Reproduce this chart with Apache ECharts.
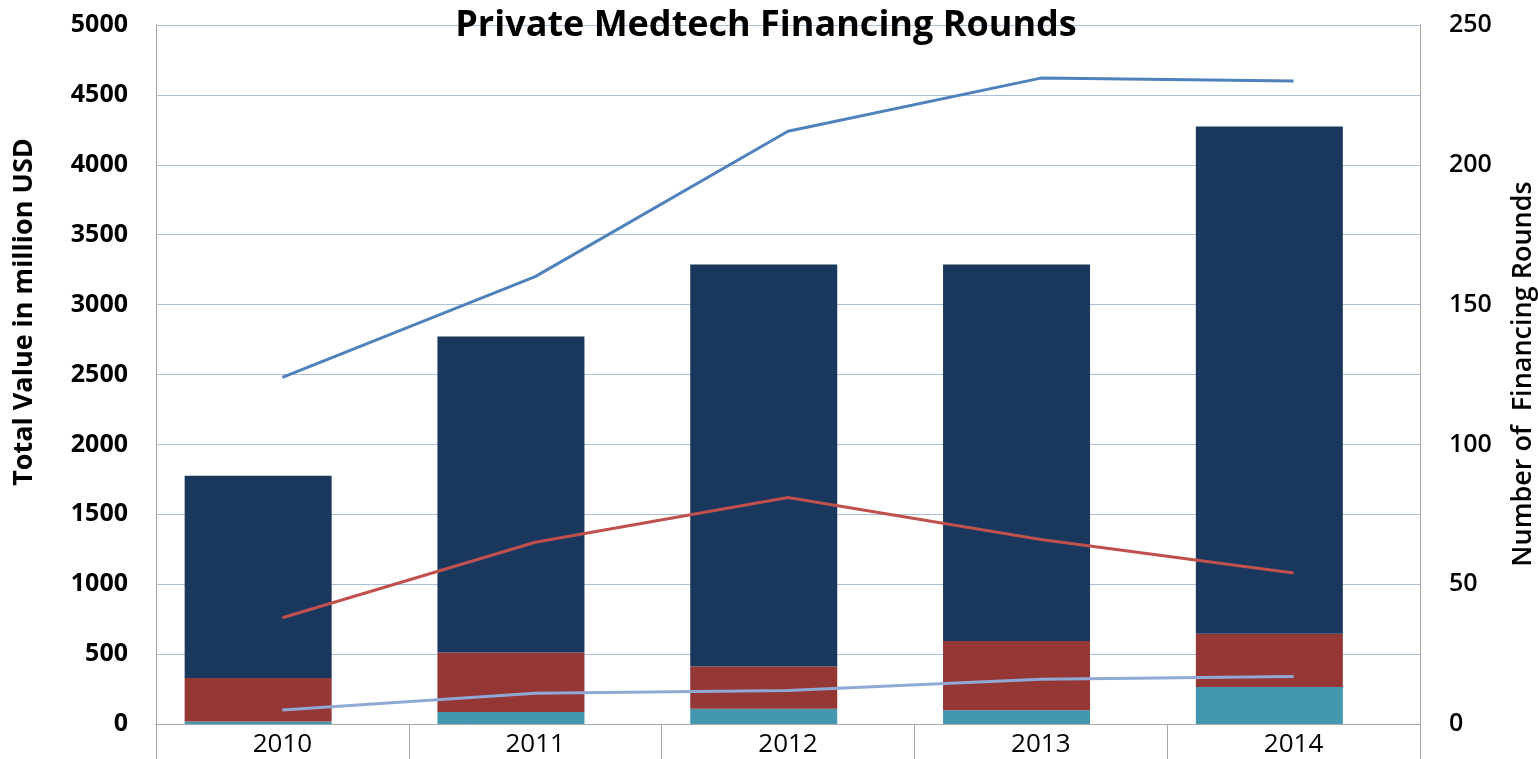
<!DOCTYPE html>
<html>
<head>
<meta charset="utf-8">
<title>Private Medtech Financing Rounds</title>
<script src="https://cdn.jsdelivr.net/npm/echarts@6/dist/echarts.min.js"></script>
<style>
  html, body { margin: 0; padding: 0; background: #fff; }
  #chart { width: 1538px; height: 759px; }
</style>
</head>
<body>
<div id="chart"></div>
<script>
const years = ['2010', '2011', '2012', '2013', '2014']

// stacked value in million USD (bottom to top)
const valueTeal = [18, 86, 109, 98, 264]
const valueRed = [311, 426, 303, 495, 381]
const valueNavy = [1447, 2259, 2874, 2693, 3629]

// number of financing rounds (right axis)
const roundsBlue = [124, 160, 212, 231, 230]
const roundsRed = [38, 65, 81, 66, 54]
const roundsLight = [5, 11, 12, 16, 17]

const font = '"Open Sans", "DejaVu Sans", sans-serif'

const chart = echarts.init(document.getElementById('chart'))

const bar = (name, data, color, stack) => ({
  name, type: 'bar', stack, data,
  barWidth: 147,
  barGap: '-67%',
  itemStyle: { color },
  emphasis: { disabled: true }
})

const line = (name, data, color) => ({
  name, type: 'line', yAxisIndex: 1, data,
  symbol: 'none',
  lineStyle: { color, width: 3 },
  itemStyle: { color },
  z: 5
})

chart.setOption({
  animation: false,
  textStyle: { fontFamily: font },
  title: {
    text: 'Private Medtech Financing Rounds',
    left: 761, top: 3, textAlign: 'center',
    textStyle: { fontSize: 36, fontWeight: 'bold', color: '#000', fontFamily: font }
  },
  graphic: [{
    type: 'text', x: 24, y: 312, rotation: Math.PI / 2,
    style: {
      text: 'Total Value in million USD', fill: '#000',
      font: 'bold 27px ' + font, align: 'center', verticalAlign: 'middle'
    }
  }, {
    type: 'text', x: 1523, y: 374, rotation: Math.PI / 2,
    style: {
      text: 'Number of  Financing Rounds', fill: '#000',
      font: '600 27px ' + font, align: 'center', verticalAlign: 'middle'
    }
  }],
  grid: { left: 156, right: 118, top: 25, bottom: 35, outerBoundsMode: 'none' },
  xAxis: {
    type: 'category',
    data: years,
    axisLine: { lineStyle: { color: '#a6a6a6', width: 1 } },
    axisTick: { show: true, length: 35, lineStyle: { color: '#a6a6a6' } },
    axisLabel: { color: '#000', fontSize: 26, margin: 8, fontFamily: font }
  },
  yAxis: [{
    type: 'value', min: 0, max: 5000, interval: 500,
    axisLine: { show: true, lineStyle: { color: '#a6a6a6' } },
    axisTick: { show: false },
    axisLabel: {
      color: '#000', fontSize: 25, fontWeight: 'bold', margin: 28, fontFamily: font,
      formatter: v => String(v)
    },
    splitLine: { lineStyle: { color: '#a9bfdc', width: 1 } }
  }, {
    type: 'value', min: 0, max: 250, interval: 50,
    axisLine: { show: true, lineStyle: { color: '#a6a6a6' } },
    axisTick: { show: false },
    axisLabel: {
      color: '#000', fontSize: 25, fontWeight: 600, margin: 29, fontFamily: font,
      formatter: v => String(v)
    },
    splitLine: { show: false }
  }],
  series: [
    bar('Value A', valueTeal, '#4398af', 'value'),
    bar('Value B', valueRed, '#943735', 'value'),
    bar('Value C', valueNavy, '#1a375e', 'value'),
    // empty neighbour in the cluster, shifts the stacks left of the tick like the original
    bar('', [], 'transparent', 'spacer'),
    line('Rounds A', roundsBlue, '#4f81bd'),
    line('Rounds B', roundsRed, '#c0504d'),
    line('Rounds C', roundsLight, '#8fa9d4')
  ]
})
</script>
</body>
</html>
